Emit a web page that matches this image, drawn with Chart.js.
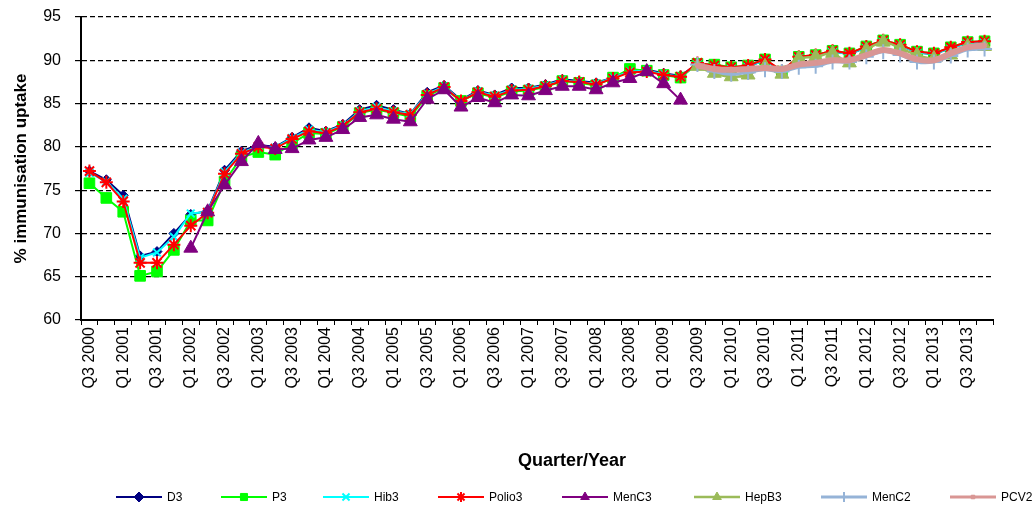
<!DOCTYPE html>
<html>
<head>
<meta charset="utf-8">
<title>Immunisation uptake</title>
<script src="https://cdn.jsdelivr.net/npm/chart.js@4.4.0/dist/chart.umd.min.js"></script>
<style>
  body { margin: 0; background: #fff; }
</style>
</head>
<body>
<canvas id="uptakeChart" width="1035" height="506"></canvas>
<script>
const quarters = [
  'Q3 2000', 'Q4 2000', 'Q1 2001', 'Q2 2001', 'Q3 2001', 'Q4 2001',
  'Q1 2002', 'Q2 2002', 'Q3 2002', 'Q4 2002', 'Q1 2003', 'Q2 2003',
  'Q3 2003', 'Q4 2003', 'Q1 2004', 'Q2 2004', 'Q3 2004', 'Q4 2004',
  'Q1 2005', 'Q2 2005', 'Q3 2005', 'Q4 2005', 'Q1 2006', 'Q2 2006',
  'Q3 2006', 'Q4 2006', 'Q1 2007', 'Q2 2007', 'Q3 2007', 'Q4 2007',
  'Q1 2008', 'Q2 2008', 'Q3 2008', 'Q4 2008', 'Q1 2009', 'Q2 2009',
  'Q3 2009', 'Q4 2009', 'Q1 2010', 'Q2 2010', 'Q3 2010', 'Q4 2010',
  'Q1 2011', 'Q2 2011', 'Q3 2011', 'Q4 2011', 'Q1 2012', 'Q2 2012',
  'Q3 2012', 'Q4 2012', 'Q1 2013', 'Q2 2013', 'Q3 2013', 'Q4 2013'
];

const yTicks = [60, 65, 70, 75, 80, 85, 90, 95];

const d3 = [
  77.2, 76.2, 74.4, 67.4, 67.9, 70.0, 72.2, 72.6, 77.3, 79.5,
  80.2, 80.0, 81.1, 82.2, 81.8, 82.6, 84.3, 84.8, 84.3, 83.8,
  86.3, 87.1, 85.4, 86.5, 86.0, 86.8, 86.8, 87.2, 87.8, 87.6,
  87.4, 88.0, 88.8, 88.9, 88.5, 88.2,
  89.6, 89.3, 89.1, 89.3, 90.0, 88.7, 90.3, 90.5, 91.0, 90.7,
  91.5, 92.2, 91.7, 90.9, 90.7, 91.4, 92.0, 92.1
];
const p3 = [
  75.8, 74.1, 72.5, 65.1, 65.6, 68.1, 71.5, 71.5, 76.0, 78.8,
  79.4, 79.1, 80.4, 81.6, 81.5, 82.3, 83.9, 84.3, 83.9, 83.5,
  85.9, 86.8, 85.3, 86.2, 85.7, 86.4, 86.5, 86.9, 87.6, 87.4,
  87.1, 88.0, 89.0, 88.8, 88.3, 88.0,
  89.6, 89.5, 89.2, 89.4, 90.1, 88.7, 90.4, 90.6, 91.1, 90.8,
  91.6, 92.3, 91.8, 91.0, 90.8, 91.5, 92.1, 92.2
];
const hib3 = [
  77.0, 76.0, 74.0, 67.2, 67.8, 69.6, 72.3, 72.5, 77.1, 79.3,
  80.1, 79.9, 81.0, 82.0, 81.7, 82.5, 84.1, 84.6, 84.1, 83.8,
  86.1, 87.0, 85.3, 86.4, 85.9, 86.6, 86.7, 87.1, 87.7, 87.5,
  87.3, 88.0, 88.7, 88.8, 88.4, 88.1,
  89.6, 89.3, 89.1, 89.3, 90.0, 88.7, 90.3, 90.5, 91.0, 90.7,
  91.5, 92.2, 91.7, 90.9, 90.7, 91.4, 92.0, 92.1
];
const polio3 = [
  77.2, 75.9, 73.7, 66.6, 66.6, 68.7, 70.9, 72.4, 76.9, 79.2,
  80.0, 79.8, 80.9, 81.8, 81.6, 82.4, 84.0, 84.4, 84.0, 83.7,
  86.0, 86.9, 85.3, 86.3, 85.8, 86.5, 86.6, 87.0, 87.6, 87.5,
  87.2, 87.9, 88.6, 88.7, 88.3, 88.1,
  89.7, 89.4, 89.2, 89.4, 90.1, 88.8, 90.4, 90.6, 91.1, 90.8,
  91.6, 92.3, 91.8, 91.0, 90.8, 91.5, 92.1, 92.2
];
const menC3 = [
  null, null, null, null, null, null, 68.3, 72.5, 75.6, 78.3,
  80.4, 79.7, 79.8, 80.8, 81.1, 82.0, 83.4, 83.7, 83.2, 82.9,
  85.5, 86.6, 84.6, 85.7, 85.1, 86.0, 85.9, 86.5, 87.0, 87.0,
  86.6, 87.4, 87.9, 88.7, 87.3, 85.4
];
const hepB3 = [
  null, null, null, null, null, null, null, null, null, null,
  null, null, null, null, null, null, null, null, null, null,
  null, null, null, null, null, null, null, null, null, null,
  null, null, null, null, null, null,
  89.3, 88.5, 88.1, 88.3, 89.3, 88.4, 90.2, 90.4, 90.8, 89.7,
  91.2, 92.1, 91.4, 90.6, 90.2, 90.6, 91.6, 91.6
];
const menC2 = [
  null, null, null, null, null, null, null, null, null, null,
  null, null, null, null, null, null, null, null, null, null,
  null, null, null, null, null, null, null, null, null, null,
  null, null, null, null, null, null,
  89.5, 88.7, 88.4, 88.6, 88.9, 88.7, 89.2, 89.3, 89.8, 89.8,
  90.4, 91.0, 90.6, 89.8, 89.8, 90.5, 91.2, 91.3
];
const pcv2 = [
  null, null, null, null, null, null, null, null, null, null,
  null, null, null, null, null, null, null, null, null, null,
  null, null, null, null, null, null, null, null, null, null,
  null, null, null, null, null, null,
  89.4, 89.0, 88.9, 89.0, 89.1, 89.0, 89.5, 89.7, 90.0, 90.0,
  90.6, 91.2, 90.8, 90.1, 90.0, 90.8, 91.5, 91.7
];

const seriesNames = ['D3', 'P3', 'Hib3', 'Polio3', 'MenC3', 'HepB3', 'MenC2', 'PCV2'];
const seriesData = [d3, p3, hib3, polio3, menC3, hepB3, menC2, pcv2];
const seriesColors = ['#000080', '#00ff00', '#00ffff', '#ff0000', '#800080', '#9bbb59', '#95b3d7', '#d99694'];
const seriesStyles = ['rectRot', 'rect', 'crossRot', 'star', 'triangle', 'triangle', 'cross', 'rect'];
const seriesRadius = [5, 7.5, 5.5, 6.5, 8, 8, 7.5, 2.5];
const seriesLineWidth = [2, 2, 2, 2, 2, 2.5, 3, 6];
const seriesPointBorder = [1, 1, 2, 2, 1, 1, 2, 1];
const legendX = [116, 221, 323, 438, 562, 694, 821, 950];

const FONT = '"Liberation Sans", Arial, sans-serif';

const datasets = seriesNames.map((name, i) => ({
  label: name,
  data: seriesData[i],
  borderColor: seriesColors[i],
  backgroundColor: seriesColors[i],
  pointBackgroundColor: seriesColors[i],
  pointBorderColor: seriesColors[i],
  pointStyle: seriesStyles[i],
  pointRadius: seriesRadius[i],
  pointBorderWidth: seriesPointBorder[i],
  borderWidth: seriesLineWidth[i],
  tension: i >= 5 ? 0.3 : 0,
  spanGaps: false,
  order: seriesNames.length - i
}));

// x axis title and Excel style legend (line with marker)
const bottomLegend = {
  id: 'bottomLegend',
  afterDraw(chart) {
    const ctx = chart.ctx;
    ctx.save();
    ctx.fillStyle = '#000';
    ctx.font = 'bold 18px ' + FONT;
    ctx.textAlign = 'center';
    ctx.textBaseline = 'middle';
    ctx.fillText('Quarter/Year', 572, 461);

    const y = 497;
    ctx.font = '12px ' + FONT;
    ctx.textAlign = 'left';
    chart.data.datasets.forEach((ds, i) => {
      const x = legendX[i];
      ctx.strokeStyle = ds.borderColor;
      ctx.lineWidth = Math.min(ds.borderWidth, 3);
      ctx.beginPath();
      ctx.moveTo(x, y);
      ctx.lineTo(x + 46, y);
      ctx.stroke();
      ctx.fillStyle = ds.pointBackgroundColor;
      ctx.strokeStyle = ds.pointBorderColor;
      ctx.lineWidth = ds.pointBorderWidth;
      Chart.helpers.drawPoint(ctx, {
        pointStyle: ds.pointStyle,
        radius: Math.min(ds.pointRadius, 5),
        borderWidth: ds.pointBorderWidth,
        rotation: 0
      }, x + 23, y);
      ctx.fillStyle = '#000';
      ctx.fillText(ds.label, x + 51, y + 1);
    });
    ctx.restore();
  }
};

const ctx = document.getElementById('uptakeChart').getContext('2d');
const uptakeChart = new Chart(ctx, {
  type: 'line',
  data: {
    labels: quarters,
    datasets: datasets
  },
  options: {
    responsive: false,
    animation: false,
    layout: {
      padding: { top: 0, right: 42, left: 0, bottom: 0 }
    },
    plugins: {
      legend: { display: false },
      tooltip: { enabled: false }
    },
    scales: {
      x: {
        offset: true,
        afterFit: (scale) => { scale.height = 186; },
        grid: {
          display: true,
          drawOnChartArea: false,
          offset: true,
          color: '#000',
          tickLength: 5,
          tickWidth: 1
        },
        border: { color: '#000', width: 2 },
        ticks: {
          autoSkip: false,
          minRotation: 90,
          maxRotation: 90,
          padding: 2,
          color: '#000',
          font: { family: FONT, size: 16 },
          callback: function (value, index) {
            return index % 2 === 0 ? quarters[index] : '';
          }
        }
      },
      y: {
        min: yTicks[0],
        max: yTicks[yTicks.length - 1],
        afterFit: (scale) => { scale.width = 81; scale.paddingTop = 17; },
        afterBuildTicks: (scale) => { scale.ticks = yTicks.map(v => ({ value: v })); },
        grid: {
          color: '#000',
          lineWidth: 1.2,
          tickLength: 6,
          tickColor: '#000',
          tickBorderDash: []
        },
        border: { display: true, color: '#000', width: 2, dash: [5, 3] },
        ticks: {
          padding: 14,
          color: '#000',
          font: { family: FONT, size: 16 }
        },
        title: {
          display: true,
          text: '% immunisation uptake',
          color: '#000',
          font: { family: FONT, size: 17, weight: 'bold' },
          padding: { top: 11, bottom: 0 }
        }
      }
    }
  },
  plugins: [bottomLegend]
});
</script>
</body>
</html>
